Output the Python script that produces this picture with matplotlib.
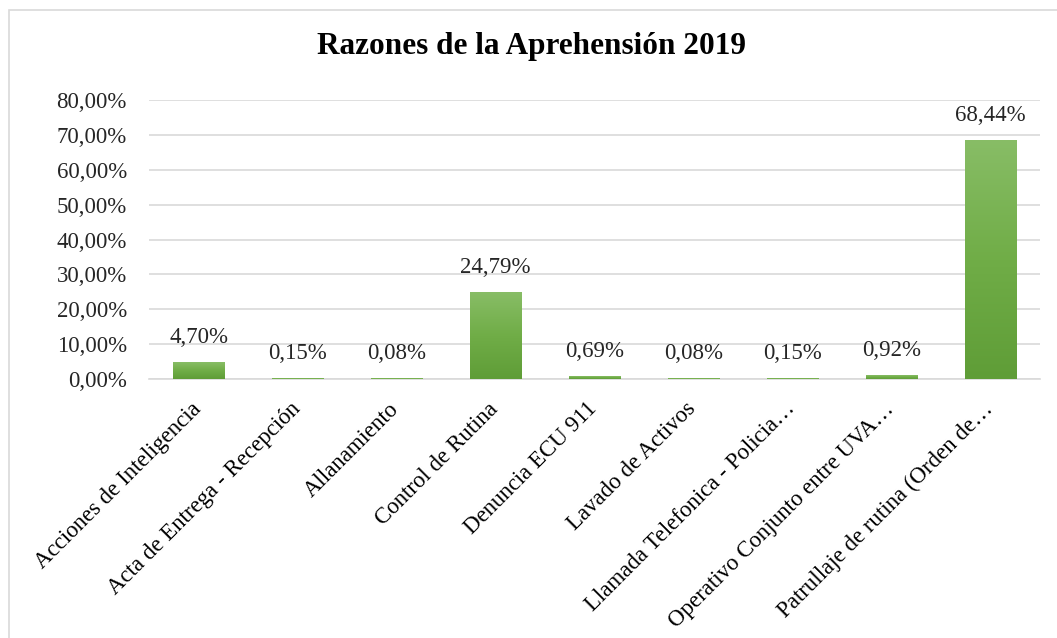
import matplotlib
matplotlib.use('Agg')
import matplotlib.pyplot as plt
import matplotlib.transforms as mtransforms
import numpy as np
from matplotlib.patches import Rectangle

# data
categories = [
    "Acciones de Inteligencia",
    "Acta de Entrega - Recepción",
    "Allanamiento",
    "Control de Rutina",
    "Denuncia ECU 911",
    "Lavado de Activos",
    "Llamada Telefonica - Policia…",
    "Operativo Conjunto entre UVA…",
    "Patrullaje de rutina (Orden de…",
]
percent = [4.70, 0.15, 0.08, 24.79, 0.69, 0.08, 0.15, 0.92, 68.44]
yticks = [0, 10, 20, 30, 40, 50, 60, 70, 80]

plt.rcParams['font.family'] = ['Liberation Serif', 'DejaVu Serif']

fig = plt.figure(figsize=(10.57, 6.38), dpi=100)
ax = fig.add_axes([0.141, 0.406, 0.843, 0.437])

x = np.arange(len(categories))
bars = ax.bar(x, percent, width=0.52, color='none', zorder=3)

# vertical green gradient inside each bar
grad = np.linspace(0, 1, 256).reshape(-1, 1)
cmap = matplotlib.colors.LinearSegmentedColormap.from_list(
    'g', ['#5f9d37', '#70ad47', '#88bd66'])
for b in bars:
    x0, y0 = b.get_x(), b.get_y()
    w, h = b.get_width(), b.get_height()
    ax.imshow(grad, cmap=cmap, origin='lower', aspect='auto',
              extent=(x0, x0 + w, y0, y0 + h), zorder=3)
    # faint shadow
    ax.add_patch(Rectangle((x0 + 0.01, y0 - 0.35), w, h, color='#bbbbbb',
                           alpha=0.35, zorder=2, linewidth=0))

for xi, v in zip(x, percent):
    ax.annotate(f"{v:.2f}%".replace('.', ','), (xi, v), xytext=(0, 18),
                textcoords='offset points', ha='center', va='center',
                fontsize=16.5, color='#262626')

ax.set_xlim(-0.5, len(categories) - 0.5)
ax.set_ylim(0, 80)
ax.set_yticks(yticks)
ax.set_yticklabels([f"{t:.2f}%".replace('.', ',') for t in yticks],
                   fontsize=16.5, color='#262626')
ax.set_xticks(x)
ax.set_xticklabels(categories, rotation=45, ha='right', va='top',
                   rotation_mode='anchor', fontsize=16.5, color='#000000')
ax.tick_params(axis='both', length=0)
ax.tick_params(axis='y', pad=16)
ax.tick_params(axis='x', pad=14)

# nudge the slanted labels a little to the left
shift = mtransforms.ScaledTranslation(-8 / 100, 0, fig.dpi_scale_trans)
for lbl in ax.get_xticklabels():
    lbl.set_transform(lbl.get_transform() + shift)

ax.grid(axis='y', color='#d9d9d9', linewidth=1.2, zorder=0)
ax.set_axisbelow(True)
for s in ['top', 'right', 'left']:
    ax.spines[s].set_visible(False)
ax.spines['bottom'].set_color('#d9d9d9')
ax.spines['bottom'].set_linewidth(1.2)

fig.text(0.503, 0.927, "Razones de la Aprehensión 2019", ha='center', va='center',
         fontsize=22.5, fontweight='bold')

# chart border (top and left visible, rest runs off the image)
fig.patches.append(Rectangle((9 / 1057, -0.1), 1.2, (638 - 10) / 638 + 0.1,
                             transform=fig.transFigure, fill=False,
                             edgecolor='#d9d9d9', linewidth=1.2))

fig.savefig('out.png', dpi=100)
